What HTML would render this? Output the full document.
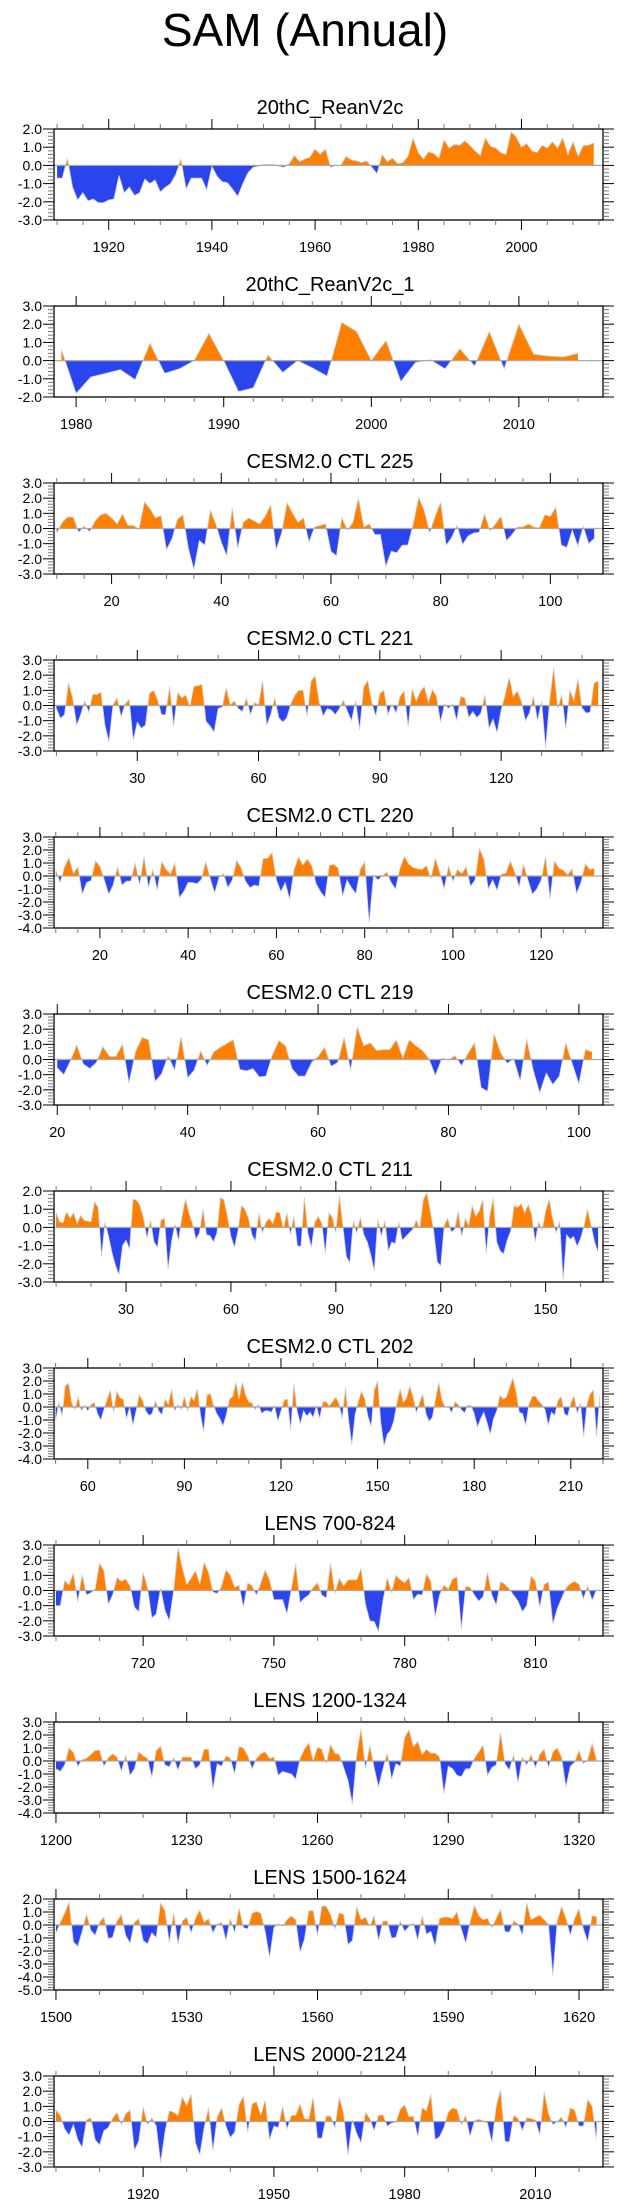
<!DOCTYPE html>
<html><head><meta charset="utf-8">
<style>
html,body{margin:0;padding:0;background:#fff;}
svg{display:block;font-family:"Liberation Sans",Arial,sans-serif;}
</style></head>
<body>
<svg id="chart" width="623" height="2209" viewBox="0 0 623 2209" xmlns="http://www.w3.org/2000/svg">
<rect width="623" height="2209" fill="#fff"/>
<text x="305" y="46" font-size="46" text-anchor="middle" fill="#000">SAM (Annual)</text>
</svg>
<script>
// ---- data ----
const titles = ["20thC_ReanV2c","20thC_ReanV2c_1","CESM2.0 CTL 225","CESM2.0 CTL 221","CESM2.0 CTL 220","CESM2.0 CTL 219","CESM2.0 CTL 211","CESM2.0 CTL 202","LENS 700-824","LENS 1200-1324","LENS 1500-1624","LENS 2000-2124"];
const startYears = [1910,1979,10,10,10,20,10,50,700,1200,1500,1900];
const yMins = [-3,-2,-3,-3,-4,-3,-3,-4,-3,-4,-5,-3];
const yMaxs = [2,3,3,3,3,3,2,3,3,3,2,3];
const xMins = [1909.4,1978.5,9.5,9.4,9.6,19.5,9.4,49.5,699.55,1199.55,1499.55,1899.55];
const xMaxs = [2015.8,2015.7,109.6,145.2,134,103.7,166.4,220,825.5,1325.5,1625.5,2025.5];
const majorSteps = [20,10,20,30,20,20,30,30,30,30,30,30];
const minorSteps = [5,2,5,10,5,5,10,10,10,10,10,10];

const vals1 = [-0.7,-0.7,0.4,-1.2,-1.9,-1.5,-1.95,-1.85,-2.05,-2.05,-1.9,-1.85,-0.55,-1.5,-1.2,-1.65,-1.5,-0.75,-1.0,-0.8,-1.45,-1.2,-1.0,-0.5,0.35,-1.3,-0.7,-0.7,-0.7,-1.35,-0.05,-0.6,-0.9,-0.95,-1.3,-1.7,-1.0,-0.4,-0.1,-0.05,0.05,0.05,0.05,-0.05,-0.1,0.1,0.55,0.2,0.35,0.45,0.9,0.6,0.9,-0.1,0.0,0.0,0.5,0.3,0.25,0.15,0.25,-0.1,-0.45,0.6,0.2,0.4,0.1,0.15,0.5,1.5,0.7,0.35,0.75,0.65,0.4,1.4,0.95,1.15,1.1,1.35,1.1,0.8,0.55,1.5,1.05,0.95,0.7,0.6,1.85,1.55,1.0,1.2,0.8,0.7,1.1,0.95,1.3,0.95,1.5,0.6,1.3,0.5,1.1,1.1,1.25];
const vals2 = [0.6,-1.8,-0.9,-0.7,-0.5,-1.05,0.95,-0.7,-0.45,0.0,1.5,0.0,-1.7,-1.5,0.3,-0.65,0.0,-0.4,-0.85,2.1,1.6,0.0,1.1,-1.15,-0.1,0.05,-0.45,0.65,-0.3,1.6,-0.45,2.0,0.35,0.25,0.2,0.4];
const vals3 = [-0.3,0.4,0.75,0.75,-0.25,0.15,-0.2,0.5,0.9,1.0,0.7,0.3,0.95,0.2,0.2,-0.05,1.75,1.3,0.7,0.85,-1.4,-0.7,0.6,0.9,-1.3,-2.7,-0.8,-1.1,1.2,0.3,-0.9,-1.8,1.35,-1.3,0.4,0.7,0.5,0.3,0.8,1.55,-1.4,-0.3,1.7,1.0,0.4,0.7,-0.9,0.1,0.2,0.3,-1.5,-1.8,0.7,-0.1,0.4,2.0,0.1,0.3,-0.4,-0.4,-2.5,-1.5,-1.6,-1.1,-1.1,0.3,2.05,1.2,-0.3,0.8,1.75,-1.1,-0.6,0.2,-1.05,-0.5,-0.3,-0.25,0.95,-0.15,0.3,0.8,-0.8,-0.4,0.1,0.1,0.3,0.1,0.05,0.9,0.8,1.4,-1.1,-1.25,-0.1,-1.15,0.15,-1.0,-0.65];
const vals4 = [-0.2,-0.85,-0.6,1.5,0.5,-1.3,-0.6,0.3,-0.45,0.75,0.7,0.9,-1.3,-2.4,0.05,0.5,-0.75,0.1,0.4,-2.3,-1.1,-1.5,-1.3,0.8,1.0,0.4,-0.6,-0.6,1.25,-1.35,0.85,0.5,0.7,-0.1,1.25,1.3,1.4,-1.05,-1.35,-1.75,-0.2,-0.1,1.15,0.05,0.3,-0.2,-0.4,0.5,-0.6,0.2,0.05,1.65,-1.3,-0.6,0.5,-0.8,-1.1,-0.8,0.1,0.7,1.0,1.0,-0.7,1.6,1.95,0.2,-0.7,-0.2,-0.3,-0.6,-0.2,0.35,-0.4,-1.0,0.3,-1.6,1.2,1.65,0.2,-0.7,0.8,1.0,-0.6,0.1,-0.5,0.6,0.95,-1.4,1.1,0.3,0.9,1.25,0.2,1.05,0.6,-1.1,0.1,-0.2,0.1,-1.0,0.6,0.5,-0.8,-0.4,-0.8,-0.5,0.7,-1.5,-0.9,-1.8,-0.3,0.7,1.85,0.6,0.95,0.3,-1.0,-0.5,0.6,-1.0,0.3,-2.8,0.3,2.5,-0.2,0.7,-1.55,1.0,0.3,1.75,-0.15,-0.5,-0.45,1.5,1.6];
const vals5 = [0.45,-0.5,0.7,1.4,0.2,0.7,-1.4,-0.5,-0.35,1.15,0.75,-0.3,-1.4,-0.7,0.7,-0.7,-0.4,-0.4,1.0,-0.7,1.5,-0.9,0.5,-1.1,1.1,0.5,0.15,1.0,-1.65,-1.2,-0.5,-0.5,-0.6,-0.25,1.1,-0.2,-1.3,-0.1,0.2,-0.9,-0.3,1.2,0.6,-0.4,-0.9,-0.7,-0.8,1.35,1.35,1.8,-0.3,-1.2,-0.5,-1.8,0.5,1.45,0.85,1.3,0.8,-0.6,-1.2,-1.65,0.8,0.9,0.6,-1.55,-0.3,-0.9,-1.35,0.5,1.1,-3.6,0.05,-0.3,0.0,0.3,-0.5,-1.0,0.6,1.5,0.9,0.65,0.55,0.5,0.8,-0.2,1.35,0.3,-1.0,0.8,-0.4,0.5,0.2,0.7,-0.8,-0.3,2.1,1.3,-1.0,-0.3,-1.1,0.15,0.2,1.15,0.3,-0.85,0.9,-0.3,-1.4,-1.0,-0.3,1.5,-1.75,1.15,0.6,0.45,0.1,0.55,-1.35,-0.5,0.95,0.5,0.6];
const vals6 = [-0.55,-1.0,-0.1,0.95,-0.3,-0.6,-0.2,0.85,0.2,0.2,1.0,-1.55,0.5,1.45,1.3,-1.45,-0.95,0.25,-0.7,1.5,-1.2,-0.7,0.55,-0.4,0.5,0.8,1.05,1.3,-0.65,-0.75,-0.6,-1.15,-1.1,0.3,1.25,0.9,-0.6,-1.1,-1.1,-0.2,0.2,0.8,-0.45,-0.2,1.45,-0.7,2.15,0.9,1.1,0.6,0.65,0.65,1.3,0.1,1.3,0.9,0.6,0.05,-1.05,0.1,-0.05,0.25,-0.4,0.4,1.1,-1.85,-2.1,1.7,0.45,-0.25,0.05,-1.4,1.35,-0.7,-2.2,-0.9,-1.65,-1.1,1.1,-0.3,-1.6,0.65,0.5];
const vals7 = [0.8,0.3,0.25,0.85,0.5,0.8,0.2,0.65,0.4,0.35,0.3,1.4,1.1,-1.6,0.3,-0.5,-1.4,-2.1,-2.6,-1.0,-0.7,-1.2,1.55,1.5,1.2,0.5,-0.6,0.4,-0.8,-1.1,0.4,0.5,-2.3,-0.8,0.2,-0.75,0.6,1.55,0.8,0.2,-0.65,-0.3,1.0,-0.4,-0.45,-0.8,-0.3,1.65,1.5,0.6,-0.5,-1.1,-0.2,1.2,1.0,0.5,-0.4,-0.75,0.8,-0.3,0.3,0.5,0.2,0.85,0.8,-0.1,0.8,-0.4,0.6,-1.0,-1.05,1.65,-0.3,-1.1,0.3,0.6,0.2,-1.45,0.8,0.55,-0.3,1.75,0.1,-1.6,-1.95,0.35,-0.3,0.55,-0.4,-0.8,-1.5,-2.4,0.45,-0.5,0.4,-1.3,-0.8,-0.9,0.3,-0.7,-0.5,-0.3,-0.1,0.4,-0.1,1.5,1.9,0.9,-0.2,-1.9,-2.1,0.1,0.5,-0.25,-0.1,0.9,-0.5,0.5,0.1,1.2,0.6,0.9,1.55,-1.45,0.6,1.6,-0.8,-1.3,-1.45,-0.7,-0.2,1.2,1.1,1.3,0.8,1.25,0.7,-0.8,0.3,-0.15,0.9,1.55,0.5,-0.3,0.35,-2.9,-0.4,-0.65,-0.5,-1.05,-0.6,0.1,1.0,0.1,-0.8,-1.35];
const vals8 = [-1.1,0.4,-0.7,1.6,1.85,0.3,-0.2,0.8,-0.3,0.15,-0.3,0.2,0.35,-0.5,-1.0,-0.2,0.6,1.3,-0.4,1.2,0.7,0.6,-0.9,0.0,-1.4,-0.3,0.95,0.5,-0.3,-0.65,-0.5,0.5,-0.3,-0.6,0.6,0.2,1.35,-0.3,0.2,-0.2,0.85,-0.3,0.8,0.5,1.4,-0.6,-1.9,0.9,1.05,0.2,-0.5,-0.9,-1.45,-0.6,0.6,0.8,1.9,0.6,1.9,0.9,0.4,0.3,-0.2,0.2,-0.5,-0.3,-0.3,-0.4,0.1,-1.1,-0.3,0.55,0.6,-1.8,1.8,-0.3,-1.3,-0.3,-0.7,-0.4,-0.8,0.1,-0.9,0.4,0.4,0.1,0.4,0.75,0.3,-0.9,1.45,-1.0,-2.9,-0.6,0.4,1.2,0.6,-0.7,-1.5,1.3,2.0,-1.2,-3.0,-2.1,-1.8,-1.1,0.3,1.4,0.35,0.7,1.6,0.8,-0.45,0.3,1.0,-0.5,-1.1,-0.8,0.6,1.9,0.5,0.0,0.05,-0.45,0.4,0.2,-0.2,-0.45,0.15,0.1,-0.5,-1.55,-0.9,-0.4,-1.2,-2.1,-0.9,-0.3,0.9,0.6,0.75,1.5,2.2,1.2,-0.4,-0.5,-1.4,0.2,0.8,0.85,0.45,0.2,-0.2,-1.4,-0.4,-0.65,0.5,0.8,-0.5,-0.7,0.3,0.85,-0.5,0.3,-2.3,0.2,1.0,1.3,-2.3,0.9];
const vals9 = [-1.0,-1.0,0.65,0.35,1.15,-0.75,1.05,-0.3,-0.15,0.1,1.8,1.3,-0.9,-0.3,0.85,0.6,0.75,0.3,-1.1,-1.4,1.2,0.2,-1.8,-1.55,0.15,-1.3,-2.0,0.0,2.85,1.5,0.4,0.8,1.3,0.4,1.85,1.2,-0.1,-0.2,0.3,1.35,1.0,0.2,0.35,-1.1,0.5,0.3,-0.3,0.5,1.35,0.7,-0.6,-0.6,-0.6,-1.55,0.1,1.75,-0.8,-0.5,-0.3,0.2,0.5,-0.3,-0.5,1.8,-0.2,0.8,0.3,0.7,0.7,0.7,1.45,-0.9,-2.0,-2.05,-2.7,-0.7,0.85,-0.1,1.0,0.7,0.5,0.85,-0.6,-0.25,-0.3,1.1,0.6,-1.75,-0.3,0.35,0.1,0.75,0.9,-2.55,0.3,0.2,-0.3,-0.7,-0.4,1.2,-0.3,-0.95,0.6,0.4,0.1,-0.3,-0.7,-1.4,-1.0,0.95,0.6,-1.1,0.4,0.55,-2.2,-1.2,-0.5,0.15,0.45,0.6,0.4,-0.55,0.3,-0.65,0.05];
const vals10 = [-0.6,-0.8,-0.3,1.0,0.65,-0.4,0.1,0.2,0.5,0.8,0.85,-0.4,0.25,0.55,0.3,-0.8,0.45,-1.1,-0.6,0.7,0.4,0.2,-1.25,0.8,1.15,-0.3,-0.45,0.25,-0.7,0.3,0.3,0.3,-0.6,-0.3,0.9,0.9,-2.2,-0.2,-0.4,0.4,0.2,-1.0,1.1,1.0,0.4,-0.6,0.2,0.55,0.7,0.2,0.3,-1.1,-0.8,-0.9,-1.0,-1.4,0.2,0.9,1.4,0.0,1.05,0.9,-0.2,1.25,0.6,0.5,-0.5,-1.5,-3.3,0.5,2.5,-0.6,1.2,-0.5,-2.0,-0.6,0.6,-1.4,-0.2,-0.4,1.8,2.4,1.1,1.5,0.5,0.9,0.6,0.6,0.3,-2.5,-0.4,-0.6,-1.1,-1.2,-0.6,-0.6,0.2,0.7,1.2,-1.1,-0.5,-0.3,2.2,-0.2,-0.7,0.5,-1.7,0.3,-0.3,0.5,-0.5,0.5,0.9,-0.5,0.7,1.0,0.3,-2.0,-0.4,-0.1,0.8,-0.2,0.1,1.35,0.1];
const vals11 = [-0.6,0.2,0.9,1.75,-1.3,-1.65,-0.5,0.85,-0.4,-0.8,0.2,0.6,-1.05,-0.95,0.3,0.8,-0.8,-1.4,0.2,0.5,-1.2,-1.45,-0.6,-0.95,1.7,1.1,-1.35,0.95,-1.45,0.3,0.6,-0.6,0.5,1.15,0.2,0.5,-0.6,0.05,0.2,-1.2,0.5,-0.6,1.3,-0.2,-0.3,0.9,1.05,0.9,-0.5,-2.5,-0.2,0.1,-0.1,0.4,0.7,0.4,-2.1,-1.1,1.1,1.1,-0.8,1.45,1.45,0.8,-0.3,0.95,0.8,-1.5,-1.2,1.4,0.4,0.6,-0.1,0.7,-1.2,0.3,0.3,-1.0,-0.95,0.3,-0.5,-0.1,0.15,-1.2,0.7,-0.7,-0.5,-1.6,0.5,0.6,0.6,0.5,1.0,-0.3,-1.4,0.2,1.5,0.7,0.4,0.5,-0.2,0.5,1.2,-0.5,-0.55,0.3,0.1,-0.8,1.7,0.4,0.6,0.75,0.4,0.05,-3.9,0.3,1.4,0.5,-0.8,0.5,1.25,-0.3,-1.3,0.7,0.65];
const vals12 = [0.75,0.4,-0.5,-0.9,-0.2,-1.2,-1.7,0.1,0.25,-1.2,-1.55,-0.6,-0.4,0.2,0.6,-0.2,0.5,0.75,-1.9,-1.3,0.95,-0.2,0.25,-0.3,-2.7,-0.7,0.7,0.6,0.4,1.6,1.05,1.8,-1.4,-2.2,-0.4,0.9,-1.95,0.3,0.9,-0.3,-1.05,-0.7,1.1,1.65,-0.7,1.15,1.3,0.4,1.4,-1.2,-0.3,-0.4,1.0,-0.5,0.4,0.4,1.15,0.2,0.15,1.6,-1.1,-1.1,0.35,0.35,-0.4,1.6,0.5,-2.2,0.1,-0.8,-1.4,0.6,0.2,-0.6,0.4,0.45,-0.3,-0.1,-0.05,0.8,1.1,0.3,0.35,-1.0,0.9,0.7,1.8,-1.2,-1.0,-0.4,0.6,0.9,0.8,-0.2,0.4,-1.0,0.05,0.15,0.05,-0.1,-1.4,1.0,2.1,-1.3,-1.35,0.4,0.2,-0.6,0.25,0.2,0.1,-0.9,1.95,0.5,-0.2,0.0,0.3,-0.4,0.9,0.75,-0.3,-0.3,1.45,1.0,-1.2];
const allVals = [vals1,vals2,vals3,vals4,vals5,vals6,vals7,vals8,vals9,vals10,vals11,vals12];

// ---- layout ----
const NS = "http://www.w3.org/2000/svg";
const svg = document.getElementById("chart");
const L = 54, R = 603, H = 91, TOP0 = 129, PITCH = 177;
function mk(tag, attrs, parent) {
  const e = document.createElementNS(NS, tag);
  for (const k in attrs) e.setAttribute(k, attrs[k]);
  (parent || svg).appendChild(e);
  return e;
}
function fmt(v){ return v.toFixed(1); }

for (let p = 0; p < 12; p++) {
  const top = TOP0 + PITCH * p, bot = top + H;
  const xmin = xMins[p], xmax = xMaxs[p], ymin = yMins[p], ymax = yMaxs[p];
  const xs = v => L + (v - xmin) / (xmax - xmin) * (R - L);
  const ys = v => bot - (v - ymin) / (ymax - ymin) * H;
  const g = mk("g", {});
  
  

  const t = mk("text", {x: 330, y: top - 15, "font-size": 20, "text-anchor": "middle", fill: "#000"}, g);
  t.textContent = titles[p];
  
  

  // area path
  const vals = allVals[p], y0 = ys(0);
  let d = "M" + xs(startYears[p]).toFixed(2) + "," + y0.toFixed(2);
  let line = "";
  vals.forEach((v, i) => {
    const px = xs(startYears[p] + i).toFixed(2), py = ys(v).toFixed(2);
    d += " L" + px + "," + py;
    line += (i ? " L" : "M") + px + "," + py;
  });
  d += " L" + xs(startYears[p] + vals.length - 1).toFixed(2) + "," + y0.toFixed(2) + " Z";
  const cidA = "ca" + p, cidB = "cb" + p;
  const defs = mk("defs", {}, g);
  const cA = mk("clipPath", {id: cidA}, defs);
  mk("rect", {x: L, y: top, width: R - L, height: y0 - top}, cA);
  const cB = mk("clipPath", {id: cidB}, defs);
  mk("rect", {x: L, y: y0, width: R - L, height: bot - y0}, cB);
  const pos = mk("path", {d: d, fill: "#ff8000", "clip-path": "url(#" + cidA + ")"}, g);
  
  
  const neg = mk("path", {d: d, fill: "#2a44ee", "clip-path": "url(#" + cidB + ")"}, g);
  
  
  const ln = mk("path", {d: line, fill: "none", stroke: "#d0d0d0", "stroke-width": 0.8}, g);
  
  
  const zl = mk("line", {x1: L, x2: R, y1: y0, y2: y0, stroke: "#aaaaaa", "stroke-width": 1.2}, g);
  
  

  // frame
  const fr = mk("rect", {x: L, y: top, width: R - L, height: H, fill: "none", stroke: "#000", "stroke-width": 1.3}, g);
  
  

  // y ticks
  for (let k = 0; k <= (ymax - ymin) * 5; k++) {
    const v = ymin + k * 0.2, yy = ys(v), major = k % 5 === 0;
    const len = major ? 11 : 6;
    mk("line", {x1: L - len, x2: L, y1: yy, y2: yy, stroke: major ? "#000" : "#777", "stroke-width": 1}, g);
    mk("line", {x1: R, x2: R + len, y1: yy, y2: yy, stroke: major ? "#000" : "#777", "stroke-width": 1}, g);
    if (major) {
      const lb = mk("text", {x: 42, y: yy + 5, "font-size": 14, "text-anchor": "end", fill: "#000"}, g);
      lb.textContent = fmt(v);
      
      
    }
  }
  // x ticks
  const ms = minorSteps[p], MS = majorSteps[p];
  for (let v = Math.ceil(xmin / ms) * ms; v <= xmax; v += ms) {
    const xx = xs(v), major = v % MS === 0;
    const len = major ? 10 : 5;
    mk("line", {x1: xx, x2: xx, y1: bot, y2: bot + len, stroke: major ? "#000" : "#777", "stroke-width": 1}, g);
    mk("line", {x1: xx, x2: xx, y1: top - len, y2: top, stroke: major ? "#000" : "#777", "stroke-width": 1}, g);
    if (major) {
      const lb = mk("text", {x: xx, y: bot + 32, "font-size": 14.5, "text-anchor": "middle", fill: "#000"}, g);
      lb.textContent = String(v);
      
      
    }
  }
}
</script>
</body></html>
